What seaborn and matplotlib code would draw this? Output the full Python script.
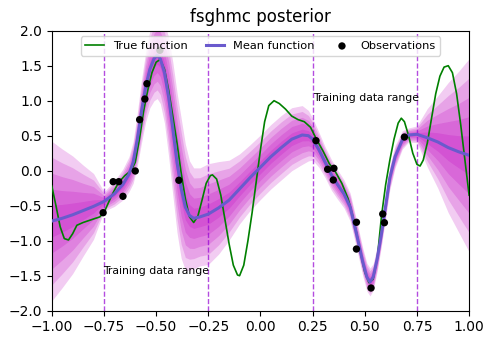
import numpy as np
import pandas as pd
import matplotlib
matplotlib.use("Agg")
import matplotlib.pyplot as plt
import seaborn as sns

# ---- data ----
obs_x = [-0.754, -0.706, -0.679, -0.659, -0.600, -0.579, -0.554, -0.544, -0.482, -0.391,
         0.266, 0.322, 0.349, 0.352, 0.460, 0.460, 0.530, 0.586, 0.594, 0.690]
obs_y = [-0.60, -0.157, -0.157, -0.366, -0.004, 0.729, 1.024, 1.243, 1.72, -0.137,
         0.429, 0.02, -0.133, 0.034, -0.737, -1.119, -1.676, -0.619, -0.743, 0.481]

true_x = [-1.00, -0.98, -0.96, -0.94, -0.92, -0.90, -0.88, -0.85, -0.82, -0.80, -0.77, -0.75,
          -0.72, -0.70, -0.68, -0.65, -0.62, -0.60, -0.58, -0.56, -0.54, -0.52, -0.50, -0.48,
          -0.46, -0.44, -0.42, -0.40, -0.38, -0.36, -0.34, -0.32, -0.30, -0.28, -0.26, -0.24,
          -0.23, -0.21, -0.19, -0.17, -0.15, -0.13, -0.11, -0.10, -0.08, -0.06, -0.04, -0.02,
          0.00, 0.02, 0.04, 0.065, 0.09, 0.12, 0.15, 0.18, 0.21, 0.24, 0.27, 0.30, 0.33, 0.36,
          0.39, 0.42, 0.44, 0.46, 0.48, 0.50, 0.52, 0.54, 0.56, 0.58, 0.60, 0.62, 0.64, 0.66,
          0.675, 0.69, 0.71, 0.73, 0.75, 0.765, 0.78, 0.80, 0.82, 0.84, 0.86, 0.88, 0.90, 0.92,
          0.94, 0.96, 0.98, 1.00]
true_y = [-0.22, -0.50, -0.80, -0.97, -0.99, -0.90, -0.78, -0.74, -0.71, -0.69, -0.66, -0.60,
          -0.40, -0.28, -0.17, -0.07, 0.00, 0.12, 0.45, 0.85, 1.15, 1.40, 1.55, 1.59,
          1.45, 1.15, 0.78, 0.40, -0.03, -0.40, -0.66, -0.74, -0.65, -0.42, -0.18, -0.07,
          -0.06, -0.12, -0.35, -0.70, -1.05, -1.35, -1.49, -1.50, -1.35, -1.00, -0.60, -0.15,
          0.30, 0.70, 0.93, 1.00, 0.96, 0.88, 0.78, 0.73, 0.70, 0.62, 0.44, 0.28, 0.10, -0.02,
          -0.18, -0.40, -0.62, -0.88, -1.18, -1.45, -1.60, -1.55, -1.25, -0.65, -0.20, 0.15, 0.45, 0.68,
          0.75, 0.70, 0.50, 0.25, 0.09, 0.067, 0.15, 0.40, 0.75, 1.10, 1.35, 1.48, 1.50, 1.40,
          1.10, 0.65, 0.15, -0.35]

mean_x = [-1.00, -0.95, -0.90, -0.85, -0.80, -0.75, -0.70, -0.66, -0.63, -0.61, -0.59, -0.57,
          -0.55, -0.53, -0.51, -0.495, -0.48, -0.46, -0.44, -0.42, -0.40, -0.38, -0.36, -0.34,
          -0.32, -0.29, -0.25, -0.20, -0.15, -0.10, -0.05, 0.00, 0.05, 0.10, 0.15, 0.20, 0.23,
          0.25, 0.28, 0.31, 0.34, 0.37, 0.40, 0.43, 0.46, 0.49, 0.51, 0.525, 0.54, 0.56, 0.58,
          0.60, 0.62, 0.645, 0.68, 0.71, 0.75, 0.80, 0.85, 0.90, 0.95, 1.00]
mean_y = [-0.72, -0.68, -0.63, -0.57, -0.51, -0.44, -0.33, -0.20, -0.05, 0.12, 0.45, 0.85,
          1.20, 1.45, 1.60, 1.65, 1.60, 1.40, 1.05, 0.60, 0.12, -0.25, -0.52, -0.64,
          -0.68, -0.66, -0.62, -0.53, -0.42, -0.26, -0.10, 0.05, 0.20, 0.33, 0.45, 0.51, 0.50,
          0.45, 0.30, 0.12, -0.06, -0.20, -0.33, -0.52, -0.90, -1.30, -1.52, -1.59, -1.52, -1.25, -0.90,
          -0.50, -0.10, 0.20, 0.44, 0.51, 0.52, 0.47, 0.41, 0.33, 0.27, 0.22]
band_halfwidth = [1.14, 0.99, 0.84, 0.65, 0.47, 0.14, 0.18, 0.22, 0.25, 0.30, 0.38, 0.45,
                  0.50, 0.55, 0.60, 0.62, 0.64, 0.72, 0.85, 0.95, 1.00, 1.00, 0.90, 0.78,
                  0.72, 0.70, 0.72, 0.66, 0.57, 0.50, 0.47, 0.46, 0.46, 0.46, 0.45, 0.42, 0.36,
                  0.30, 0.25, 0.22, 0.22, 0.21, 0.20, 0.20, 0.20, 0.20, 0.20, 0.20, 0.19, 0.18, 0.17,
                  0.17, 0.17, 0.16, 0.13, 0.10, 0.12, 0.42, 0.66, 0.93, 1.15, 1.38]
band_levels = [1, 2, 3, 4, 5]
range_lines = [-0.75, -0.25, 0.25, 0.75]

# ---- plot ----
fig = plt.figure(figsize=(4.98, 3.43), dpi=100)
ax = fig.add_axes([0.104, 0.0942, 0.838, 0.8163])

mx = np.array(mean_x)
my = np.array(mean_y)
hw = np.array(band_halfwidth)
for k in band_levels:
    frac = k / max(band_levels)
    ax.fill_between(mx, my - frac * hw, my + frac * hw, color="m", alpha=0.2,
                    linewidth=0, zorder=1)

for xv in range_lines:
    ax.axvline(xv, color="darkviolet", linestyle="--", linewidth=1.0, alpha=0.7, zorder=2)

true_df = pd.DataFrame({"x": true_x, "y": true_y})
mean_df = pd.DataFrame({"x": mean_x, "y": mean_y})
obs_df = pd.DataFrame({"x": obs_x, "y": obs_y})

sns.lineplot(data=true_df, x="x", y="y", color="green", linewidth=1.2, ax=ax,
             label="True function", sort=False, zorder=3)
sns.lineplot(data=mean_df, x="x", y="y", color="#6a5acd", linewidth=2.2, ax=ax,
             label="Mean function", sort=False, zorder=4)
sns.scatterplot(data=obs_df, x="x", y="y", color="black", s=28, edgecolor="none",
                ax=ax, label="Observations", zorder=5)

ax.text(-0.752, -1.43, "Training data range", fontsize=7.8, va="center", ha="left")
ax.text(0.252, 1.04, "Training data range", fontsize=7.8, va="center", ha="left")

ax.set_xlim(-1, 1)
ax.set_ylim(-2, 2)
ax.set_xticks([-1.0, -0.75, -0.5, -0.25, 0.0, 0.25, 0.5, 0.75, 1.0])
ax.set_xlabel("")
ax.set_ylabel("")
ax.set_title("fsghmc posterior", fontsize=12)
ax.legend(loc="upper center", ncol=3, fontsize=8.2, handlelength=1.6,
          columnspacing=1.6)

fig.savefig("out.png", dpi=100)
